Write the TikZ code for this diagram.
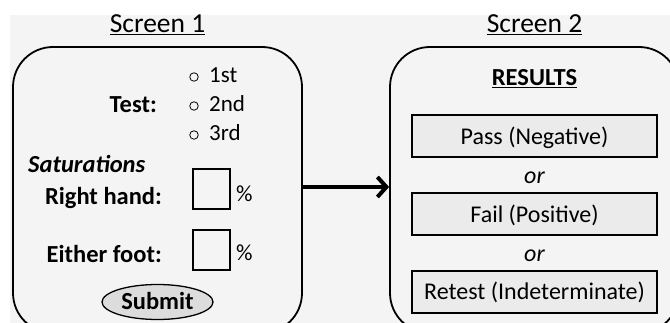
\documentclass[tikz,border=0pt]{standalone}
\usepackage{fontspec}
\setmainfont{Carlito}
\usetikzlibrary{arrows.meta,shapes.geometric}
\definecolor{bggray}{HTML}{F4F4F4}
\definecolor{btngray}{HTML}{DCDCDC}
\definecolor{rectgray}{HTML}{EBEBEB}
\tikzset{
  screen/.style={draw, line width=1.8pt, rounded corners=40pt, minimum width=289pt, minimum height=286pt, inner sep=0pt},
  title/.style={font=\fontsize{27.5}{31}\selectfont, anchor=base, inner sep=0pt},
  lbl/.style={font=\fontsize{24.5}{28}\selectfont\bfseries, anchor=base east, inner sep=0pt},
  txt/.style={font=\fontsize{23}{27}\selectfont, anchor=base west, inner sep=0pt},
  radio/.style={draw, circle, line width=0.8pt, minimum size=8.5pt, inner sep=0pt},
  inbox/.style={draw, line width=1.3pt, minimum width=37pt, minimum height=40pt, inner sep=0pt},
  result/.style={draw, line width=1.3pt, fill=rectgray, minimum width=245pt, minimum height=42pt, inner sep=0pt},
  rtext/.style={font=\fontsize{24}{28}\selectfont, anchor=base, inner sep=0pt},
  ortext/.style={font=\fontsize{24}{28}\selectfont\itshape, anchor=base, inner sep=0pt},
}
\begin{document}
\begin{tikzpicture}[x=1pt,y=-1pt]
\useasboundingbox (0,0) rectangle (670,323);
\clip (0,0) rectangle (670,323);
\fill[bggray] (10,15) rectangle (670,323);
% titles
\node[title] (t1) at (157.5,33) {\underline{Screen 1}};
\node[title] (t2) at (534.5,33) {\underline{Screen 2}};
% screens
\node[screen] (lbox) at (157.5,190) {};
\node[screen] (rbox) at (534.5,190) {};
% arrow
\draw[line width=4pt, -{Straight Barb[length=9pt,width=20pt]}] ([yshift=3pt]lbox.east) -- ([yshift=3pt]rbox.west);
% Screen 1 content
\node[lbl] (test) at (157,113) {Test:};
\node[radio] (r1) at (194,77) {};
\node[radio] (r2) at (194,106) {};
\node[radio] (r3) at (194,135) {};
\node[txt] (o1) at (209,83) {1st};
\node[txt] (o2) at (209,112) {2nd};
\node[txt] (o3) at (209,141) {3rd};
\node[font=\fontsize{24.5}{28}\selectfont\bfseries\itshape, anchor=base west, inner sep=0pt] (sat) at (28,173) {Saturations};
\node[lbl] (rh) at (162,205) {Right hand:};
\node[inbox] (b1) at (211.5,189) {};
\node[txt] (p1) at (236,202) {\%};
\node[lbl] (ef) at (162,263) {Either foot:};
\node[inbox] (b2) at (211.5,250) {};
\node[txt] (p2) at (236,261) {\%};
\node[draw, ellipse, line width=1.3pt, fill=btngray, minimum width=111pt, minimum height=35pt, inner sep=0pt] (sub) at (157.5,302) {};
\node[font=\fontsize{24.5}{28}\selectfont\bfseries, anchor=base, inner sep=0pt] (subt) at (157.5,310) {Submit};
% Screen 2 content
\node[font=\fontsize{24.5}{28}\selectfont\bfseries, anchor=base, inner sep=0pt] (res) at (534.5,86) {\underline{RESULTS}};
\node[result] (pass) at (534.5,136) {};
\node[rtext] (passt) at (534.5,145) {Pass (Negative)};
\node[ortext] (or1) at (534.5,184) {or};
\node[result] (fail) at (534.5,214) {};
\node[rtext] (failt) at (534.5,223) {Fail (Positive)};
\node[ortext] (or2) at (534.5,262) {or};
\node[result] (ret) at (534.5,292) {};
\node[rtext] (rett) at (534.5,300) {Retest (Indeterminate)};
\end{tikzpicture}
\end{document}
